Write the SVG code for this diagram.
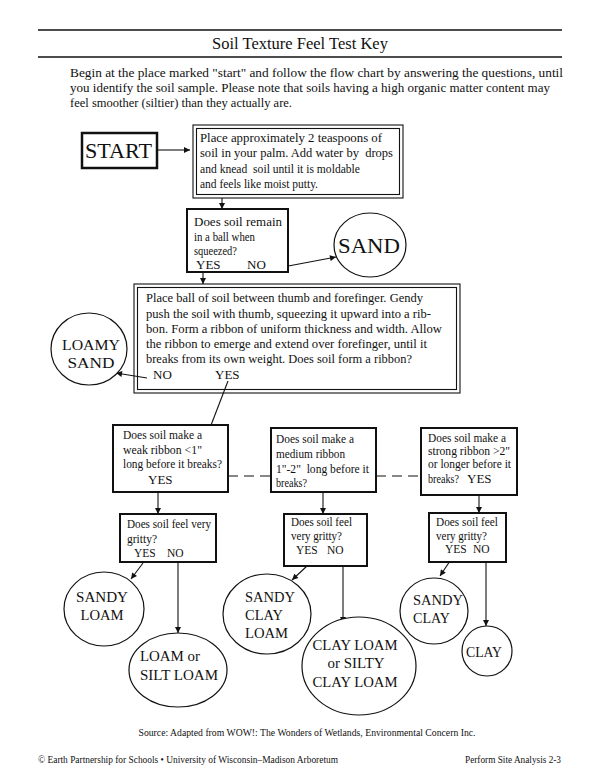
<svg xmlns="http://www.w3.org/2000/svg" width="600" height="777" viewBox="0 0 600 777">
<style>
text{font-family:"Liberation Serif","Times New Roman",serif;fill:#111}
.t{font-size:12px}
.s{font-size:11.5px}
.yn{font-size:13px}
.big{font-size:15.5px}
.box{fill:#fff;stroke:#111;stroke-width:2}
.thin{fill:none;stroke:#111;stroke-width:1.1}
.ell{fill:#fff;stroke:#111;stroke-width:1.2}
.c{fill:none;stroke:#111;stroke-width:1.1}
</style>
<defs>
<marker id="ah" viewBox="0 0 10 10" refX="10" refY="5" markerWidth="7" markerHeight="6" markerUnits="userSpaceOnUse" orient="auto"><path d="M0,0 L10,5 L0,10 z" fill="#111"/></marker>
</defs>
<rect width="600" height="777" fill="#fff"/>
<g id="header">
<line x1="38" y1="30" x2="562" y2="30" stroke="#111" stroke-width="1.5"/>
<text x="300" y="49" font-size="16.5" text-anchor="middle">Soil Texture Feel Test Key</text>
<line x1="38" y1="57" x2="562" y2="57" stroke="#111" stroke-width="1.5"/>
<text x="70" y="77" font-size="12.5" textLength="493" lengthAdjust="spacingAndGlyphs">Begin at the place marked "start" and follow the flow chart by answering the questions, until</text>
<text x="70" y="92" font-size="12.5" textLength="480" lengthAdjust="spacingAndGlyphs">you identify the soil sample. Please note that soils having a high organic matter content may</text>
<text x="70" y="107" font-size="12.5" textLength="222" lengthAdjust="spacingAndGlyphs">feel smoother (siltier) than they actually are.</text>
</g>
<g id="connectors">
<line class="c" x1="158" y1="150" x2="190" y2="150" marker-end="url(#ah)"/>
<line class="c" x1="222" y1="198" x2="222" y2="209" marker-end="url(#ah)"/>
<line class="c" x1="283" y1="267" x2="336" y2="257" marker-end="url(#ah)"/>
<line class="c" x1="203" y1="273" x2="203" y2="284" marker-end="url(#ah)"/>
<line class="c" x1="147" y1="378" x2="116" y2="373" marker-end="url(#ah)"/>
<line class="c" x1="228" y1="381" x2="208" y2="433" marker-end="url(#ah)"/>
<line class="c" x1="228" y1="476" x2="271" y2="476" stroke-dasharray="10,6"/>
<line class="c" x1="376" y1="476" x2="421" y2="476" stroke-dasharray="10,6"/>
<line class="c" x1="158" y1="492" x2="158" y2="514" marker-end="url(#ah)"/>
<line class="c" x1="323" y1="492" x2="323" y2="514" marker-end="url(#ah)"/>
<line class="c" x1="479" y1="495" x2="479" y2="513" stroke="#555" stroke-width="1.5" marker-end="url(#ah)"/>
<line class="c" x1="143" y1="563" x2="131" y2="579" marker-end="url(#ah)"/>
<line class="c" x1="178" y1="562" x2="178" y2="633" marker-end="url(#ah)"/>
<line class="c" x1="307" y1="566" x2="292" y2="580" marker-end="url(#ah)"/>
<line class="c" x1="343" y1="566" x2="343" y2="623" marker-end="url(#ah)"/>
<line class="c" x1="452" y1="558" x2="440" y2="576" marker-end="url(#ah)"/>
<line class="c" x1="486" y1="562" x2="486" y2="626" marker-end="url(#ah)"/>
</g>
<g id="start">
<rect x="82" y="133" width="75" height="35" fill="#fff" stroke="#111" stroke-width="2.5"/>
<text x="85" y="158" font-size="22" textLength="67" lengthAdjust="spacingAndGlyphs">START</text>
</g>
<g id="place">
<rect x="193" y="125" width="210" height="73" class="thin" stroke-width="1.4"/>
<rect x="196.5" y="128.5" width="203" height="66" class="thin"/>
<text class="t" x="200" y="142" textLength="182" lengthAdjust="spacingAndGlyphs">Place approximately 2 teaspoons of</text>
<text class="t" x="200" y="157" textLength="193" lengthAdjust="spacingAndGlyphs" xml:space="preserve">soil in your palm. Add water by  drops</text>
<text class="t" x="200" y="173" textLength="160" lengthAdjust="spacingAndGlyphs" xml:space="preserve">and knead  soil until it is moldable</text>
<text class="t" x="200" y="188" textLength="118" lengthAdjust="spacingAndGlyphs">and feels like moist putty.</text>
</g>
<g id="ball">
<rect x="187" y="209" width="101" height="63" class="box"/>
<text class="s" x="194" y="226" textLength="88" lengthAdjust="spacingAndGlyphs">Does soil remain</text>
<text class="s" x="194" y="241" textLength="61" lengthAdjust="spacingAndGlyphs">in a ball when</text>
<text class="s" x="194" y="255" textLength="43" lengthAdjust="spacingAndGlyphs">squeezed?</text>
<text class="yn" x="196" y="269">YES</text>
<text class="yn" x="247" y="269">NO</text>
</g>
<g id="sand">
<ellipse cx="370" cy="245" rx="36" ry="32" class="ell"/>
<text x="369" y="253" font-size="21" text-anchor="middle" textLength="62" lengthAdjust="spacingAndGlyphs">SAND</text>
</g>
<g id="ribbon">
<rect x="134" y="284" width="326" height="109" class="thin" stroke-width="1.4"/>
<rect x="137.5" y="287.5" width="319" height="102" class="thin"/>
<text class="t" x="146" y="302" textLength="277" lengthAdjust="spacingAndGlyphs">Place ball of soil between thumb and forefinger. Gendy</text>
<text class="t" x="146" y="318" textLength="285" lengthAdjust="spacingAndGlyphs">push the soil with thumb, squeezing it upward into a rib-</text>
<text class="t" x="146" y="333" textLength="296" lengthAdjust="spacingAndGlyphs">bon. Form a ribbon of uniform thickness and width. Allow</text>
<text class="t" x="146" y="348" textLength="281" lengthAdjust="spacingAndGlyphs">the ribbon to emerge and extend over forefinger, until it</text>
<text class="t" x="146" y="363" textLength="266" lengthAdjust="spacingAndGlyphs">breaks from its own weight. Does soil form a ribbon?</text>
<text class="yn" x="153" y="379">NO</text>
<text class="yn" x="215" y="379">YES</text>
</g>
<g id="loamy-sand">
<ellipse cx="89" cy="349" rx="38" ry="36" class="ell"/>
<text class="big" x="91" y="350" text-anchor="middle" textLength="58" lengthAdjust="spacingAndGlyphs">LOAMY</text>
<text class="big" x="91" y="368" text-anchor="middle" textLength="47" lengthAdjust="spacingAndGlyphs">SAND</text>
</g>
<g id="weak">
<rect x="113" y="425" width="115" height="67" class="box"/>
<text class="s" x="123" y="439" textLength="79" lengthAdjust="spacingAndGlyphs">Does soil make a</text>
<text class="s" x="123" y="454" textLength="79" lengthAdjust="spacingAndGlyphs">weak ribbon &lt;1"</text>
<text class="s" x="123" y="468" textLength="99" lengthAdjust="spacingAndGlyphs">long before it breaks?</text>
<text class="yn" x="148" y="484">YES</text>
</g>
<g id="medium">
<rect x="271" y="428" width="105" height="64" class="box"/>
<text class="s" x="276" y="443" textLength="78" lengthAdjust="spacingAndGlyphs">Does soil make a</text>
<text class="s" x="276" y="458" textLength="69" lengthAdjust="spacingAndGlyphs">medium ribbon</text>
<text class="s" x="276" y="473" textLength="93" lengthAdjust="spacingAndGlyphs" xml:space="preserve">1"-2"  long before it</text>
<text class="s" x="276" y="487" textLength="31" lengthAdjust="spacingAndGlyphs">breaks?</text>
</g>
<g id="strong">
<rect x="421" y="428" width="96" height="67" class="box"/>
<text class="s" x="428" y="442" textLength="78" lengthAdjust="spacingAndGlyphs">Does soil make a</text>
<text class="s" x="428" y="455" textLength="82" lengthAdjust="spacingAndGlyphs">strong ribbon &gt;2"</text>
<text class="s" x="428" y="468" textLength="83" lengthAdjust="spacingAndGlyphs">or longer before it</text>
<text class="s" x="428" y="483" textLength="31" lengthAdjust="spacingAndGlyphs">breaks?</text>
<text class="yn" x="467" y="483">YES</text>
</g>
<g id="gritty1">
<rect x="120" y="514" width="96" height="48" class="box"/>
<text class="s" x="127" y="528" textLength="84" lengthAdjust="spacingAndGlyphs">Does soil feel very</text>
<text class="s" x="127" y="543">gritty?</text>
<text class="s" x="134" y="557">YES</text>
<text class="s" x="167" y="557">NO</text>
</g>
<g id="gritty2">
<rect x="284" y="514" width="83" height="52" class="box"/>
<text class="s" x="291" y="526" textLength="61" lengthAdjust="spacingAndGlyphs">Does soil feel</text>
<text class="s" x="291" y="540" textLength="51" lengthAdjust="spacingAndGlyphs">very gritty?</text>
<text class="s" x="296" y="554">YES</text>
<text class="s" x="327" y="554">NO</text>
</g>
<g id="gritty3">
<rect x="429" y="513" width="77" height="49" class="box"/>
<text class="s" x="436" y="526" textLength="62" lengthAdjust="spacingAndGlyphs">Does soil feel</text>
<text class="s" x="436" y="540" textLength="51" lengthAdjust="spacingAndGlyphs">very gritty?</text>
<text class="s" x="445" y="553">YES</text>
<text class="s" x="473" y="553">NO</text>
</g>
<g id="sandy-loam">
<ellipse cx="104" cy="609" rx="40" ry="37" class="ell"/>
<text class="big" x="102" y="602" text-anchor="middle" textLength="52" lengthAdjust="spacingAndGlyphs">SANDY</text>
<text class="big" x="102" y="620" text-anchor="middle" textLength="43" lengthAdjust="spacingAndGlyphs">LOAM</text>
</g>
<g id="loam-silt-loam">
<ellipse cx="178" cy="670" rx="49" ry="37" class="ell"/>
<text class="big" x="140" y="661" textLength="60" lengthAdjust="spacingAndGlyphs">LOAM or</text>
<text class="big" x="140" y="680" textLength="78" lengthAdjust="spacingAndGlyphs">SILT LOAM</text>
</g>
<g id="sandy-clay-loam">
<ellipse cx="267" cy="614" rx="44" ry="40" class="ell"/>
<text class="big" x="245" y="602" textLength="50" lengthAdjust="spacingAndGlyphs">SANDY</text>
<text class="big" x="245" y="620" textLength="38" lengthAdjust="spacingAndGlyphs">CLAY</text>
<text class="big" x="245" y="638" textLength="43" lengthAdjust="spacingAndGlyphs">LOAM</text>
</g>
<g id="clay-loam">
<ellipse cx="359" cy="666" rx="57" ry="49" class="ell"/>
<text class="big" x="355" y="650" text-anchor="middle" textLength="85" lengthAdjust="spacingAndGlyphs">CLAY LOAM</text>
<text class="big" x="356" y="668" text-anchor="middle" textLength="57" lengthAdjust="spacingAndGlyphs">or SILTY</text>
<text class="big" x="355" y="687" text-anchor="middle" textLength="85" lengthAdjust="spacingAndGlyphs">CLAY LOAM</text>
</g>
<g id="sandy-clay">
<ellipse cx="434" cy="611" rx="34" ry="33" class="ell"/>
<text class="big" x="413" y="605" textLength="50" lengthAdjust="spacingAndGlyphs">SANDY</text>
<text class="big" x="413" y="623" textLength="37" lengthAdjust="spacingAndGlyphs">CLAY</text>
</g>
<g id="clay">
<ellipse cx="487" cy="651" rx="25" ry="25" class="ell"/>
<text class="big" x="484" y="657" text-anchor="middle" textLength="36" lengthAdjust="spacingAndGlyphs">CLAY</text>
</g>
<g id="footer">
<text x="307" y="736" font-size="10" text-anchor="middle" textLength="337" lengthAdjust="spacingAndGlyphs">Source: Adapted from WOW!: The Wonders of Wetlands, Environmental Concern Inc.</text>
<text x="38" y="763" font-size="9.5" fill="#333" textLength="300" lengthAdjust="spacingAndGlyphs">© Earth Partnership for Schools • University of Wisconsin–Madison Arboretum</text>
<text x="561" y="763" font-size="9.5" fill="#333" text-anchor="end" textLength="96" lengthAdjust="spacingAndGlyphs">Perform Site Analysis 2-3</text>
</g>
</svg>
